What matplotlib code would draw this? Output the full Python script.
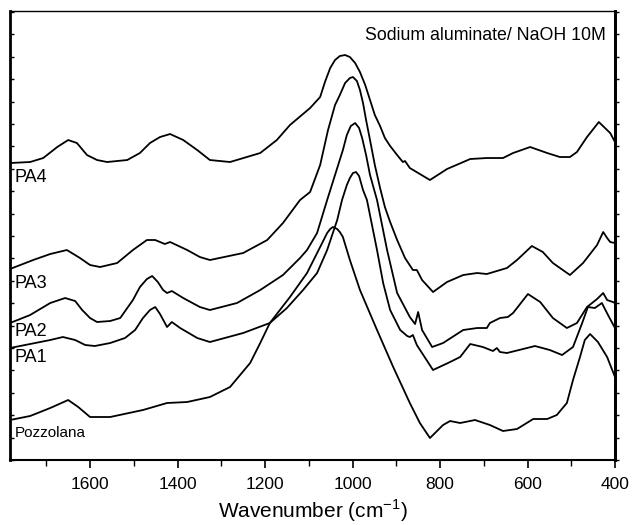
import matplotlib
matplotlib.use("Agg")
import matplotlib.pyplot as plt
from matplotlib.ticker import MultipleLocator

plt.rcParams['font.family'] = ['Liberation Sans', 'DejaVu Sans']

# FTIR spectra, wavenumber (cm-1) and absorbance (a.u., offset)
wn_pa4 = [1783, 1737, 1707, 1675, 1650, 1630, 1607, 1584, 1561, 1515, 1486, 1463, 1440, 1417,
          1387, 1355, 1326, 1280, 1211, 1173, 1143, 1097, 1074, 1063, 1051, 1040, 1029, 1017,
          1006, 994, 983, 971, 960, 949, 937, 926, 914, 898, 885, 880, 869, 823, 784, 731,
          693, 656, 633, 594, 555, 526, 503, 487, 464, 437, 411, 400]
ab_pa4 = [297, 298, 302, 313, 320, 317, 305, 300, 298, 300, 307, 317, 323, 326,
          320, 310, 300, 298, 307, 320, 335, 352, 363, 378, 392, 400, 404, 405,
          403, 397, 388, 375, 360, 345, 334, 322, 314, 305, 298, 299, 292, 280, 291, 301,
          302, 302, 307, 313, 307, 303, 303, 308, 323, 338, 327, 318]

wn_pa3 = [1783, 1730, 1691, 1653, 1623, 1600, 1577, 1538, 1502, 1470, 1451, 1429, 1417, 1378,
          1349, 1326, 1250, 1195, 1159, 1120, 1097, 1074, 1056, 1040, 1029, 1017, 1006, 999,
          990, 983, 976, 969, 960, 949, 937, 926, 914, 898, 880, 862, 853, 841, 816, 784,
          747, 715, 693, 647, 624, 590, 565, 542, 503, 473, 441, 427, 418, 411, 400]
ab_pa3 = [191, 200, 206, 210, 202, 195, 193, 197, 210, 220, 220, 216, 218, 210,
          203, 200, 207, 220, 237, 260, 268, 295, 330, 355, 365, 377, 382, 383,
          379, 370, 357, 340, 320, 295, 272, 253, 238, 220, 202, 190, 190, 180, 168, 178,
          185, 187, 186, 192, 200, 214, 208, 197, 185, 197, 215, 228, 222, 218, 217]

wn_pa2 = [1783, 1737, 1691, 1657, 1634, 1618, 1600, 1584, 1554, 1531, 1502, 1486, 1470, 1458,
          1445, 1433, 1424, 1413, 1387, 1349, 1326, 1264, 1211, 1159, 1120, 1104, 1081, 1058,
          1040, 1022, 1013, 1004, 994, 985, 978, 969, 960, 944, 921, 898, 869, 857, 850, 841,
          818, 793, 747, 715, 693, 686, 663, 645, 633, 599, 571, 542, 510, 487, 464, 441, 427,
          418, 405, 400]
ab_pa2 = [137, 145, 157, 162, 159, 150, 142, 138, 139, 142, 160, 173, 181, 184,
          178, 170, 167, 169, 162, 153, 150, 157, 170, 185, 202, 210, 227, 260,
          285, 310, 325, 334, 337, 332, 322, 305, 285, 260, 210, 167, 143, 136, 148, 130,
          113, 117, 130, 132, 132, 137, 142, 143, 147, 166, 158, 142, 132, 137, 153, 161, 167,
          160, 158, 157]

wn_pa1 = [1783, 1737, 1691, 1662, 1634, 1611, 1589, 1554, 1520, 1497, 1479, 1463, 1451, 1440,
          1424, 1413, 1394, 1355, 1326, 1250, 1189, 1150, 1113, 1081, 1058, 1035, 1024, 1013,
          1006, 999, 992, 985, 976, 967, 944, 930, 914, 891, 875, 869, 862, 853, 816, 777, 754,
          731, 702, 679, 670, 663, 647, 601, 583, 549, 521, 496, 475, 462, 446, 430, 416, 400]
ab_pa1 = [112, 116, 120, 123, 120, 115, 114, 117, 122, 130, 142, 150, 153, 146,
          133, 138, 132, 122, 118, 127, 137, 152, 170, 187, 210, 240, 260, 275,
          282, 287, 288, 284, 270, 260, 210, 177, 150, 130, 124, 123, 125, 115, 90, 98, 103,
          116, 113, 109, 112, 108, 107, 112, 114, 110, 105, 113, 137, 153, 152, 157, 145, 132]

wn_pozz = [1783, 1737, 1691, 1650, 1627, 1600, 1554, 1479, 1424, 1378, 1326, 1280, 1234, 1211,
           1189, 1143, 1104, 1074, 1058, 1051, 1045, 1035, 1029, 1022, 1006, 983, 944, 907,
           869, 846, 823, 793, 777, 754, 720, 686, 656, 624, 587, 555, 533, 510, 496, 480,
           469, 457, 439, 418, 400]
ab_pozz = [40, 44, 52, 60, 53, 43, 43, 50, 57, 58, 63, 73, 97, 117,
           137, 163, 187, 213, 227, 231, 233, 231, 228, 223, 200, 170, 130, 93,
           57, 37, 22, 35, 39, 37, 40, 35, 29, 31, 41, 41, 45, 57, 80, 103,
           120, 126, 118, 103, 83]

names = ['PA4', 'PA3', 'PA2', 'PA1', 'Pozzolana']
label_y = [283, 177, 129, 103, 27]

fig = plt.figure(figsize=(6.32, 5.25), dpi=100)
ax = fig.add_axes([0.0158, 0.1238, 0.9573, 0.8552])

for wn, ab in [(wn_pa4, ab_pa4), (wn_pa3, ab_pa3), (wn_pa2, ab_pa2),
               (wn_pa1, ab_pa1), (wn_pozz, ab_pozz)]:
    ax.plot(wn, ab, color='black', lw=1.3)

for name, yy in zip(names, label_y):
    if name == 'Pozzolana':
        ax.text(1771, yy, name, fontsize=11, va='center', ha='left')
    else:
        ax.text(1773, yy, name, fontsize=13, va='center', ha='left')

ax.text(0.985, 0.945, 'Sodium aluminate/ NaOH 10M', transform=ax.transAxes,
        ha='right', va='center', fontsize=12.8)

ax.set_xlim(1783, 400)
ax.set_ylim(0, 449)
ax.xaxis.set_major_locator(MultipleLocator(200))
ax.xaxis.set_minor_locator(MultipleLocator(100))
ax.tick_params(axis='x', which='major', direction='out', length=6, width=1.2, labelsize=12.5, pad=6)
ax.tick_params(axis='x', which='minor', direction='out', length=4, width=1.0)
ax.yaxis.set_major_locator(MultipleLocator(22.4))
ax.tick_params(axis='y', direction='in', length=3, width=1.0, labelleft=False)

sec = ax.secondary_yaxis('right')
sec.yaxis.set_major_locator(MultipleLocator(22.4))
sec.tick_params(axis='y', direction='out', length=3, width=1.0, labelright=False)
sec.spines['right'].set_linewidth(2.0)

ax.spines['left'].set_linewidth(2.0)
ax.spines['bottom'].set_linewidth(1.5)
ax.spines['top'].set_linewidth(1.0)
ax.spines['right'].set_linewidth(2.0)

ax.set_xlabel('Wavenumber (cm$^{\\mathregular{-1}}$)', fontsize=15, labelpad=4)

fig.savefig('out.png', dpi=100)
plt.close('all')
